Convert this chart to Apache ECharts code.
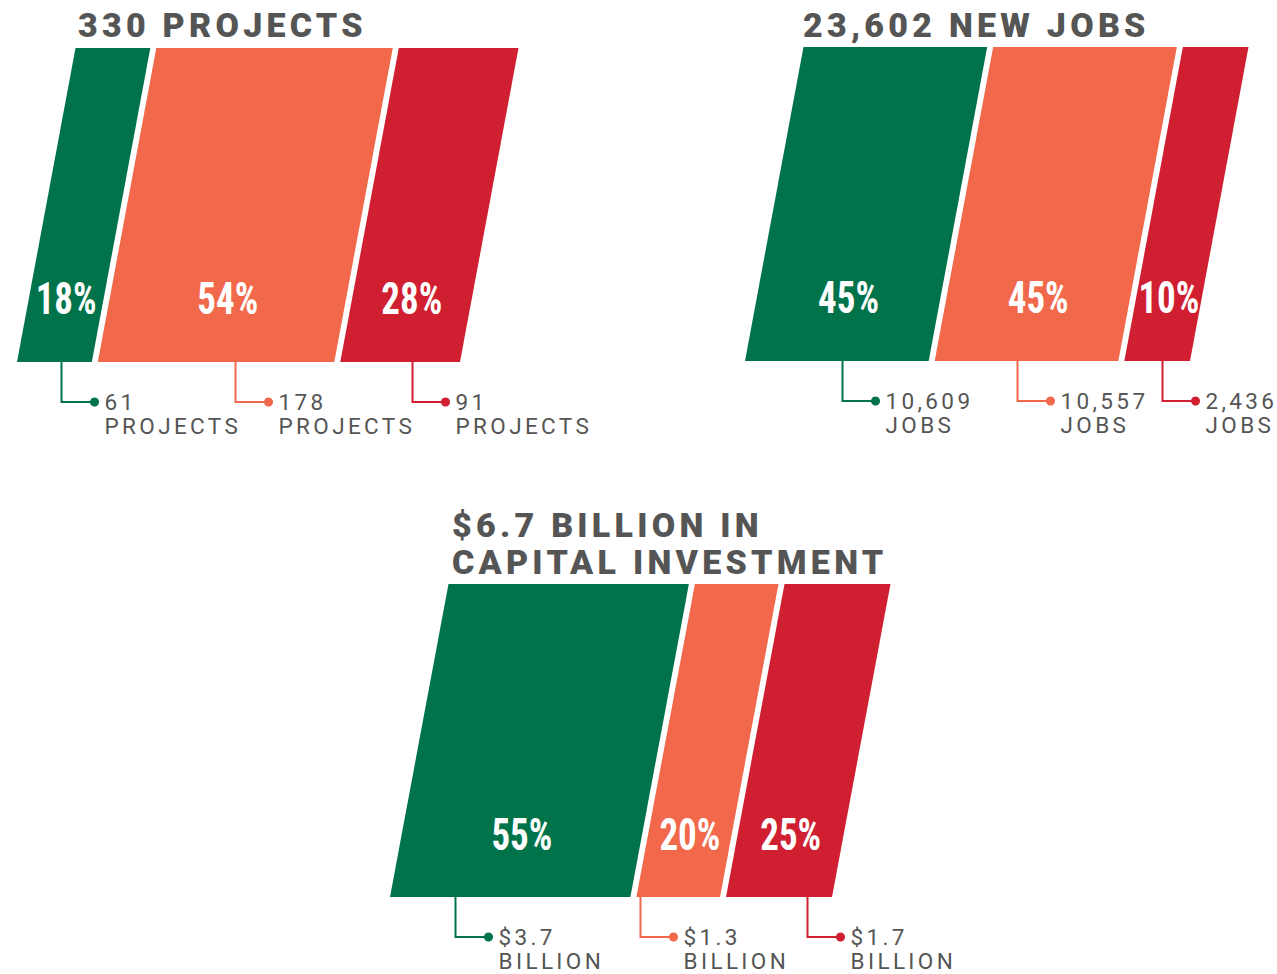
<!DOCTYPE html>
<html><head><meta charset="utf-8">
<script src="https://cdn.jsdelivr.net/npm/echarts@6/dist/echarts.min.js"></script>
<style>
html,body{margin:0;padding:0;background:#fff;}
#chart{width:1277px;height:974px;}
#chart text{letter-spacing:0.15em;}
#chart text[style*="Condensed"]{letter-spacing:0;}
#chart text[style*="900"]{letter-spacing:0.125em;}
</style></head><body><div id="chart"></div>
<script>
// ---------- data ----------
const categories = ['Group A', 'Group B', 'Group C'];
const panelTitles = ['330 PROJECTS', '23,602 NEW JOBS', '$6.7 BILLION IN\nCAPITAL INVESTMENT'];
const projectShares = [18, 54, 28];
const projectCounts = ['61', '178', '91'];
const jobShares = [45, 45, 10];
const jobCounts = ['10,609', '10,557', '2,436'];
const capitalShares = [55, 20, 25];
const capitalAmounts = ['$3.7', '$1.3', '$1.7'];
const unitLabels = ['PROJECTS', 'JOBS', 'BILLION'];

// ---------- style / layout ----------
const COLORS = ['#00734A', '#F1684B', '#D01F30'];
const SLANT = 58.5, GAP = 6, LABEL_POS = 0.2, DROP = 40, HOOK = 33;
const MIN_SHARE = 17;
const panels = [
  {shares: projectShares, values: projectCounts, unit: unitLabels[0], leader: [0.59, 0.58, 0.6],
   grid: {left: 14, top: 48, width: 449, height: 314}, title: {left: 78, top: 6}},
  {shares: jobShares, values: jobCounts, unit: unitLabels[1], leader: [0.53, 0.45, 0.57],
   grid: {left: 742, top: 47, width: 451, height: 314}, title: {left: 803, top: 6}},
  {shares: capitalShares, values: capitalAmounts, unit: unitLabels[2], leader: [0.27, 0.04, 0.76],
   grid: {left: 387, top: 584, width: 448, height: 313}, title: {left: 452, top: 506}}
];

function spans(shares) {
  const disp = shares.map(v => Math.max(v, MIN_SHARE));
  const tot = disp.reduce((a, b) => a + b, 0);
  let acc = 0;
  return disp.map((v, i) => { const s = acc; acc += v / tot * 100; return [s, acc, i]; });
}

function makeRenderItem(p) {
  return function (params, api) {
    const i = params.dataIndex;
    const bl = api.coord([api.value(0), 0]);
    const br = api.coord([api.value(1), 0]);
    const tp = api.coord([api.value(0), 1]);
    const y0 = bl[1], y1 = tp[1], h = y0 - y1;
    const x0 = bl[0] + GAP / 2, x1 = br[0] - GAP / 2;
    const color = COLORS[i];
    const lx = (x0 + x1) / 2 + SLANT * LABEL_POS;
    const ly = y0 - h * LABEL_POS;
    const vx = Math.round(x0 + (x1 - x0) * p.leader[i]) + 0.5;
    const vy = y0 + DROP;
    return {
      type: 'group',
      children: [
        {type: 'polygon', shape: {points: [[x0, y0], [x1, y0], [x1 + SLANT, y1], [x0 + SLANT, y1]]},
         style: {fill: color}},
        {type: 'text', x: lx, y: ly, scaleX: 0.84, scaleY: 1,
         style: {text: p.shares[i] + '%', fill: '#ffffff', fontSize: 44, fontWeight: 'bold',
                 fontFamily: '"Roboto Condensed", Roboto, sans-serif',
                 align: 'center', verticalAlign: 'middle'}},
        {type: 'polyline', shape: {points: [[vx, y0], [vx, vy], [vx + HOOK, vy]]},
         style: {stroke: color, lineWidth: 2, fill: 'none'}},
        {type: 'circle', shape: {cx: vx + HOOK, cy: vy, r: 4.5}, style: {fill: color}},
        {type: 'text', x: vx + HOOK + 10, y: vy - 12.5,
         style: {text: p.values[i] + '\n' + p.unit, fill: '#555555', fontSize: 22.5,
                 fontFamily: 'Roboto, sans-serif', lineHeight: 24.5, align: 'left', verticalAlign: 'top'}}
      ]
    };
  };
}

const option = {
  backgroundColor: '#ffffff',
  animation: false,
  title: panels.map((p, k) => ({
    text: panelTitles[k], left: p.title.left, top: p.title.top, padding: 0,
    textStyle: {fontFamily: 'Roboto, sans-serif', fontWeight: 900, fontSize: 34, color: '#555555', lineHeight: 37}
  })),
  grid: panels.map(p => Object.assign({containLabel: false}, p.grid)),
  xAxis: panels.map((p, k) => ({type: 'value', gridIndex: k, min: 0, max: 100, show: false})),
  yAxis: panels.map((p, k) => ({type: 'value', gridIndex: k, min: 0, max: 1, show: false})),
  series: panels.map((p, k) => ({
    type: 'custom', name: panelTitles[k], xAxisIndex: k, yAxisIndex: k, clip: false,
    renderItem: makeRenderItem(p),
    data: spans(p.shares).map((d, i) => ({name: categories[i], value: d}))
  }))
};

const chart = echarts.init(document.getElementById('chart'), null, {renderer: 'svg'});
chart.setOption(option);
</script></body></html>
